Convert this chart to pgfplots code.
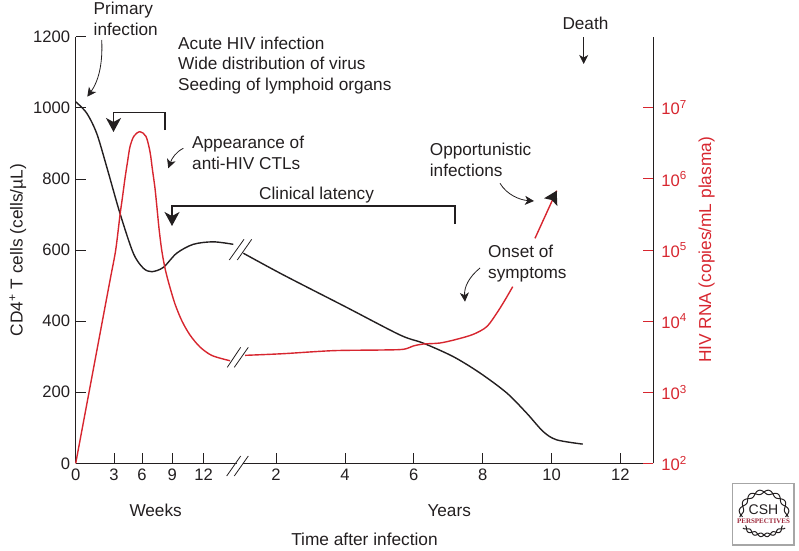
\documentclass[border=0pt]{standalone}
\usepackage{pgfplots}
\pgfplotsset{compat=1.18}
\usepackage{pgfplotstable}
\usepackage{fontspec}
\setmainfont{Liberation Sans}
\newfontfamily\logoserif{Liberation Serif}
\usetikzlibrary{arrows.meta}
\definecolor{hivred}{HTML}{D7262F}
\definecolor{inkblk}{HTML}{231F20}
\definecolor{cshred}{HTML}{9E2A3C}

% x = position along the broken axis (px from the origin), weeks left of the break, years right of it
\pgfplotstableread{
x y
0 1017
11 985
21 928
31 834
44.3 703
57.6 591
67.6 549
76 539
87.6 551
101 591
117.6 616
137.6 623
157.6 616
}\cdfirst
\pgfplotstableread{
x y
167.6 591
207.6 530
269.3 441
324.3 361
347.6 338
377.6 300
404.3 254
431 198
451 141
467.6 89
481 66
507 54
}\cdsecond
\pgfplotstableread{
x y
0 100
10 562
20 3162
30 17800
35 42100
40 100000
44.3 310000
46.8 556000
49.3 1020000
51.8 1730000
54.3 2840000
58.3 4010000
64.3 4610000
70.3 3950000
74.3 2410000
76.8 1330000
79.3 738000
81.3 390000
83.3 202000
86 100000
89.3 55300
93.3 33300
99.3 17400
106.3 10000
114.3 6370
124.3 4320
136.3 3280
154.3 2770
}\rnafirst
\pgfplotstableread{
x y
169.3 3300
207.3 3480
257.3 3840
304.3 3920
327.6 4010
337.6 4470
347.6 4760
364.3 4920
381 5550
397.6 6520
411 8340
421 12900
429.3 19800
437 30500
}\rnasecond
\pgfplotstableread{
x y
459.3 146000
481 682000
}\rnathird

\pgfplotsset{common/.style={
  at={(75.7pt,86.7pt)}, anchor=south west,
  scale only axis, width=577.6pt, height=426.6pt,
  xmin=0, xmax=577.6,
  clip=false,
  axis line style={inkblk,line width=0.9pt},
  tick style={line width=0.8pt},
  major tick length=10.7pt,
  minor tick length=0pt,
  tick align=inside,
  ticklabel style={font=\fontsize{16.6}{18}\selectfont},
  /pgf/number format/assume math mode=true,
  /pgf/number format/1000 sep={},
}}

\begin{document}
\begin{tikzpicture}
\path[use as bounding box] (0,0) rectangle (799pt,550pt);

\begin{axis}[common,
  axis y line*=left, axis x line*=bottom,
  ymin=0, ymax=1200,
  ytick={0,200,400,600,800,1000,1200},
  xtick={0,38.3,66.3,96.6,128,200.3,269.3,338,407,476,544.6},
  xticklabels={0,3,6,9,12,2,4,6,8,10,12},
  tick style={inkblk,line width=0.8pt},
  ticklabel style={text=inkblk},
  yticklabel style={xshift=-2pt},
  xticklabel style={yshift=-2pt},
  xlabel={Time after infection},
  xlabel style={at={(axis description cs:0.5,-0.193)},anchor=base,font=\fontsize{17.3}{19}\selectfont,text=inkblk},
  ylabel={CD4\textsuperscript{+} T cells (cells/µL)},
  ylabel style={at={(axis description cs:-0.092,0.5)},anchor=base,font=\fontsize{17.3}{19}\selectfont,text=inkblk},
]
\addplot[inkblk,line width=1.4pt,smooth] table {\cdfirst};
\addplot[inkblk,line width=1.4pt,smooth] table {\cdsecond};
\end{axis}

\begin{axis}[common,
  axis y line*=right, axis x line=none,
  ymode=log, ymin=100, ymax=1e8,
  ytick={1e2,1e3,1e4,1e5,1e6,1e7},
  yticklabels={10\textsuperscript{2},10\textsuperscript{3},10\textsuperscript{4},10\textsuperscript{5},10\textsuperscript{6},10\textsuperscript{7}},
  tick style={hivred,line width=0.8pt},
  minor tick style={draw=none},
  ticklabel style={text=hivred},
  yticklabel style={xshift=4.5pt},
  ylabel={HIV RNA (copies/mL plasma)},
  ylabel style={at={(axis description cs:1.1,0.5)},anchor=base,rotate=0,font=\fontsize{17.3}{19}\selectfont,text=hivred},
]
\addplot[hivred,line width=1.4pt,smooth] table {\rnafirst};
\addplot[hivred,line width=1.4pt,smooth] table {\rnasecond};
\addplot[hivred,line width=1.4pt] table {\rnathird};
\end{axis}

% annotations, in reference pixels (y downwards from the top of the page)
\begin{scope}[shift={(0,550pt)},x=1pt,y=-1pt,
  lbl/.style={inkblk,font=\fontsize{17.2}{19}\selectfont,anchor=base west,inner sep=0pt},
  tri/.style={-{Stealth[length=14pt,width=15pt,inset=4pt]},inkblk,line width=1.3pt},
  thin arrow/.style={-{Stealth[length=9pt,width=9pt,inset=2.5pt]},inkblk,line width=0.8pt}]

\node[lbl] at (93.5,15) {Primary};
\node[lbl] at (93.5,36) {infection};
\node[lbl] at (178,49.3) {Acute HIV infection};
\node[lbl] at (178,70) {Wide distribution of virus};
\node[lbl] at (178,90.7) {Seeding of lymphoid organs};
\node[lbl] at (192,148) {Appearance of};
\node[lbl] at (192,169) {anti-HIV CTLs};
\node[lbl] at (259,199) {Clinical latency};
\node[lbl] at (429.7,155.7) {Opportunistic};
\node[lbl] at (429.7,176.7) {infections};
\node[lbl] at (488,257.3) {Onset of};
\node[lbl] at (488,278) {symptoms};
\node[lbl] at (562.3,29.3) {Death};
\node[lbl] at (129.3,516.7) {Weeks};
\node[lbl] at (427.3,516.7) {Years};

% curved pointers
\draw[thin arrow] (101.7,40) .. controls (103,65) and (98,82) .. (87.3,96.7);
\draw[thin arrow] (183.3,148.3) .. controls (176,152) and (172,158) .. (168.3,168.3);
\draw[thin arrow] (500,183.3) .. controls (507,195) and (520,200) .. (534,201);
\draw[thin arrow] (480,268) .. controls (469,277) and (464,287) .. (465,301.7);
\draw[thin arrow] (583.7,37.3) -- (583.7,64);

% brackets
\draw[tri] (165,130) -- (165,112.5) -- (113.5,112.5) -- (113.5,132);
\draw[tri] (455,224) -- (455,206) -- (172,206) -- (172,226);
\fill[inkblk] (544,198.3) -- (556.7,190.7) -- (557.3,206) -- (551.7,200) -- cycle;

% axis and curve breaks
\fill[white] (236.5,461) rectangle (243,465.5);
\foreach \xa/\ya/\xb/\yb in {
  226.7/476/240.7/456, 234.3/476/248.3/456,
  227.3/367.3/240.7/347.3, 234.3/367.3/248.3/347.3,
  229.3/260/244/239.3, 237.3/260/251.7/239.3}{
  \draw[inkblk,line width=0.8pt] (\xa,\ya) -- (\xb,\yb);
}

% CSH logo
\draw[gray!70,line width=1.2pt] (732.5,483.5) rectangle (794,545);
\node[inkblk,font=\fontsize{14}{16}\selectfont] at (763.5,510) {CSH};
\node[cshred,font=\logoserif\bfseries\fontsize{7}{8}\selectfont] at (763.5,521.3) {PERSPECTIVES};
\foreach \sg in {1,-1}{
  \draw[inkblk,line width=1pt,domain=-5:185,samples=100,smooth,variable=\t]
    plot ({764+(23+\sg*2.2*sin(8*\t))*cos(\t)},{515-(23+\sg*2.2*sin(8*\t))*sin(\t)});
  \draw[inkblk,line width=1pt,domain=225:315,samples=60,smooth,variable=\t]
    plot ({764+(28+\sg*1.8*sin(14*\t))*cos(\t)},{507-(28+\sg*1.8*sin(14*\t))*sin(\t)});
}
\end{scope}
\end{tikzpicture}
\end{document}
